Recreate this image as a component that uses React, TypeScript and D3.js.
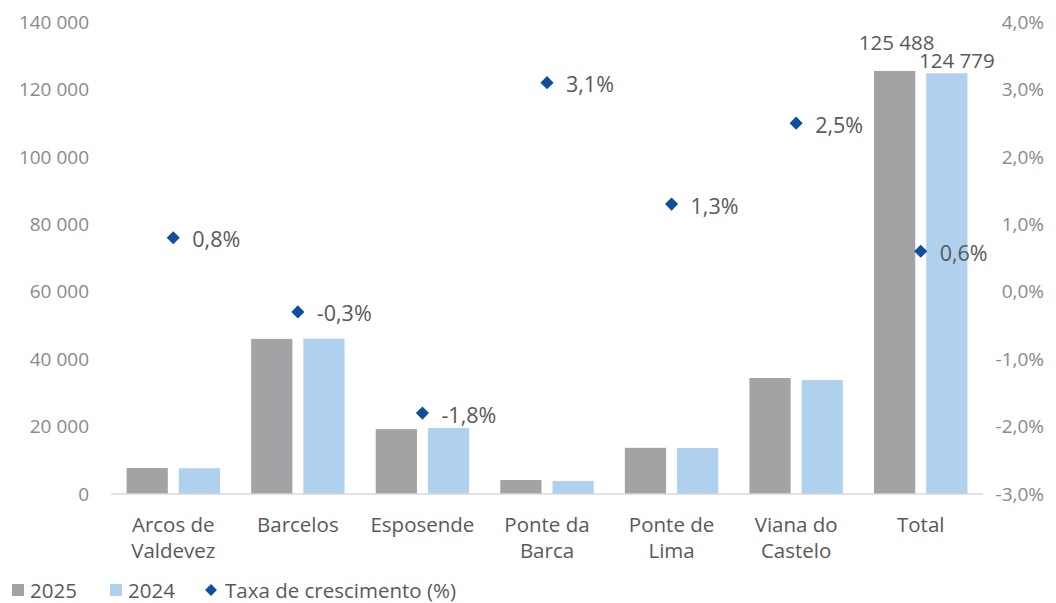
import * as d3 from 'd3';
import React from 'react';

const categories = [
  ['Arcos de', 'Valdevez'],
  ['Barcelos'],
  ['Esposende'],
  ['Ponte da', 'Barca'],
  ['Ponte de', 'Lima'],
  ['Viana do', 'Castelo'],
  ['Total'],
];
const values2025 = [7700, 46000, 19250, 4150, 13700, 34400, 125488];
const values2024 = [7650, 46100, 19600, 3850, 13650, 33800, 124779];
const growth = [0.8, -0.3, -1.8, 3.1, 1.3, 2.5, 0.6];
const leftTicks = [0, 20000, 40000, 60000, 80000, 100000, 120000, 140000];
const rightTicks = [-3, -2, -1, 0, 1, 2, 3, 4];

const W = 1056;
const H = 603;
const FONT = '"Open Sans", sans-serif';
const C2025 = '#a3a3a6';
const C2024 = '#b0d1ed';
const CDOT = '#0f4f9e';
const TICK = '#8a8a8a';
const LABEL = '#595959';

const fmtNum = (v: number) => d3.format(',')(v).replace(/,/g, ' ');
const fmtPct = (v: number) => d3.format('.1f')(v).replace('.', ',').replace('\u2212', '-') + '%';

export default function App() {
  const names = categories.map((c) => c.join(' '));
  const x = d3.scaleBand().domain(names).range([111, 983]).paddingInner(0.25).paddingOuter(0.125);
  const sub = d3.scaleBand().domain(['2025', '2024']).range([0, x.bandwidth()]).paddingInner(0.21);
  const yL = d3.scaleLinear().domain([0, 140000]).range([494, 22]);
  const yR = d3.scaleLinear().domain([-3, 4]).range([494, 22]);
  const diamond = d3.symbol().type(d3.symbolDiamond2).size(110)();
  const legendDiamond = d3.symbol().type(d3.symbolDiamond2).size(90)();
  const last = names.length - 1;
  const cx = (n: string) => (x(n) as number) + x.bandwidth() / 2;

  return (
    <div style={{ position: 'absolute', left: 0, top: 0 }}>
      <svg width={W} height={H} style={{ display: 'block', background: '#fff' }} fontFamily={FONT}>
        {leftTicks.map((t) => (
          <text key={'l' + t} x={89} y={yL(t)} dy="0.35em" textAnchor="end" fontSize={19} fill={TICK}>
            {fmtNum(t)}
          </text>
        ))}
        {rightTicks.map((t) => (
          <text key={'r' + t} x={1044} y={yR(t)} dy="0.35em" textAnchor="end" fontSize={19} fill={TICK}>
            {fmtPct(t)}
          </text>
        ))}
        {names.map((n, i) => (
          <g key={n} transform={`translate(${x(n)},0)`}>
            <rect x={sub('2025')} y={yL(values2025[i])} width={sub.bandwidth()} height={yL(0) - yL(values2025[i])} fill={C2025} />
            <rect x={sub('2024')} y={yL(values2024[i])} width={sub.bandwidth()} height={yL(0) - yL(values2024[i])} fill={C2024} />
          </g>
        ))}
        <line x1={111} x2={983} y1={yL(0)} y2={yL(0)} stroke="#d9d9d9" strokeWidth={1.5} />
        <text x={(x(names[last]) as number) + (sub('2025') as number) + sub.bandwidth() / 2 + 2} y={yL(values2025[last]) - 21} textAnchor="middle" fontSize={20.5} fill={LABEL}>
          {fmtNum(values2025[last])}
        </text>
        <text x={(x(names[last]) as number) + (sub('2024') as number) + sub.bandwidth() / 2 + 10} y={yL(values2024[last]) - 5} textAnchor="middle" fontSize={20.5} fill={LABEL}>
          {fmtNum(values2024[last])}
        </text>
        {names.map((n, i) => {
          const cy = yR(growth[i]);
          return (
            <g key={'g' + n}>
              <path d={diamond as string} transform={`translate(${cx(n)},${cy})`} fill={CDOT} />
              <text x={cx(n) + 19} y={cy + 2} dy="0.35em" fontSize={21.5} fill={LABEL}>
                {fmtPct(growth[i])}
              </text>
            </g>
          );
        })}
        {names.map((n, i) => (
          <text key={'c' + n} x={cx(n)} y={532} textAnchor="middle" fontSize={20.5} fill={LABEL}>
            {categories[i].map((line, j) => (
              <tspan key={j} x={cx(n)} dy={j === 0 ? 0 : 26}>
                {line}
              </tspan>
            ))}
          </text>
        ))}
        <g fontSize={20.5} fill={LABEL}>
          <rect x={12} y={584} width={12} height={12} fill={C2025} />
          <text x={30} y={591} dy="0.35em">2025</text>
          <rect x={110} y={584} width={12} height={12} fill={C2024} />
          <text x={128} y={591} dy="0.35em">2024</text>
          <path d={legendDiamond as string} transform="translate(211,590)" fill={CDOT} />
          <text x={225} y={591} dy="0.35em">Taxa de crescimento (%)</text>
        </g>
      </svg>
    </div>
  );
}
